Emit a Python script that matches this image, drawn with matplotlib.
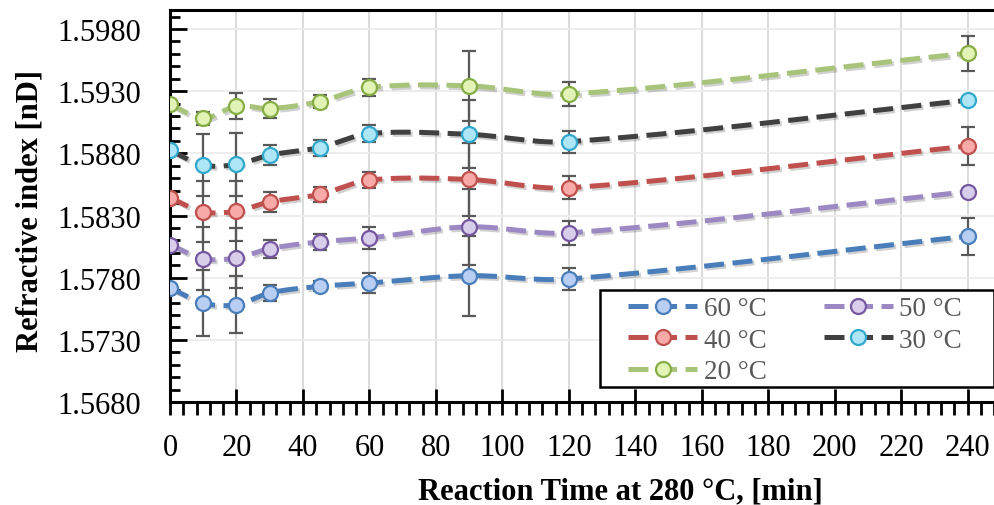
import numpy as np
import matplotlib
matplotlib.use('Agg')
import matplotlib.pyplot as plt
from matplotlib.ticker import MultipleLocator, FixedLocator, FormatStrFormatter
from matplotlib.lines import Line2D
from matplotlib.patches import Rectangle
import matplotlib.patheffects as pe

# ---------------- data ----------------
time_min = [0, 10, 20, 30, 45, 60, 90, 120, 240]
series_labels = ['60 °C', '50 °C', '40 °C', '30 °C', '20 °C']
ri_60 = [1.57717, 1.57596, 1.57582, 1.57677, 1.57730, 1.57757, 1.57816, 1.57789, 1.58133]
ri_50 = [1.58066, 1.57953, 1.57959, 1.58034, 1.58088, 1.58120, 1.58209, 1.58160, 1.58491]
ri_40 = [1.58443, 1.58330, 1.58335, 1.58410, 1.58469, 1.58585, 1.58590, 1.58523, 1.58859]
ri_30 = [1.58824, 1.58706, 1.58711, 1.58786, 1.58846, 1.58959, 1.58953, 1.58894, 1.59227]
ri_20 = [1.59195, 1.59082, 1.59181, 1.59160, 1.59217, 1.59330, 1.59343, 1.59276, 1.59606]
err_60 = [0, 0.00266, 0.00228, 0.00065, 0.00040, 0.00078, 0.00323, 0.00089, 0.00148]
err_50 = [0, 0.00252, 0.00242, 0.00073, 0.00065, 0.00089, 0.00306, 0.00094, 0]
err_40 = [0, 0.00246, 0.00242, 0.00081, 0.00062, 0.00065, 0.00290, 0.00094, 0.00151]
err_30 = [0, 0.00250, 0.00256, 0.00081, 0.00065, 0.00065, 0.00274, 0.00089, 0]
err_20 = [0, 0.00052, 0.00103, 0.00077, 0.00056, 0.00065, 0.00282, 0.00097, 0.00141]
y_ticks = [1.5680, 1.5730, 1.5780, 1.5830, 1.5880, 1.5930, 1.5980]

values = [ri_60, ri_50, ri_40, ri_30, ri_20]
errors = [err_60, err_50, err_40, err_30, err_20]

line_colors = ['#4a7ebb', '#9c88c2', '#c0504d', '#404040', '#a8c47a']
face_colors = ['#b8cff3', '#d8cdeb', '#f7aaa8', '#aee6f7', '#e2f3b6']
edge_colors = ['#4a7ebb', '#7558a0', '#c0504d', '#31a9cc', '#86ad45']

plt.rcParams['font.family'] = ['Liberation Serif', 'DejaVu Serif']


def smooth(x, y, n=40):
    """Smoothed line through the points (cubic Hermite / Bezier in x)."""
    x = np.asarray(x, float)
    y = np.asarray(y, float)
    m = np.zeros_like(y)
    m[0] = (y[1] - y[0]) / (x[1] - x[0])
    m[-1] = (y[-1] - y[-2]) / (x[-1] - x[-2])
    for i in range(1, len(x) - 1):
        m[i] = (y[i + 1] - y[i - 1]) / (x[i + 1] - x[i - 1])
    xs, ys = [], []
    for i in range(len(x) - 1):
        h = x[i + 1] - x[i]
        p1 = np.array([x[i], y[i]])
        p2 = np.array([x[i + 1], y[i + 1]])
        c1 = p1 + np.array([h / 3, m[i] * h / 3])
        c2 = p2 - np.array([h / 3, m[i + 1] * h / 3])
        t = np.linspace(0, 1, n)[:, None]
        seg = ((1 - t) ** 3) * p1 + 3 * ((1 - t) ** 2) * t * c1 + 3 * (1 - t) * t ** 2 * c2 + t ** 3 * p2
        if i > 0:
            seg = seg[1:]
        xs.append(seg[:, 0])
        ys.append(seg[:, 1])
    return np.concatenate(xs), np.concatenate(ys)


fig = plt.figure(figsize=(9.95, 5.06), dpi=100)
ax = fig.add_axes([170 / 995, 1 - 403 / 506, 825 / 995, 392 / 506])

dash = (0, (4.0, 1.7))
shadow = [pe.SimpleLineShadow(offset=(1.5, -1.5), shadow_color='k', alpha=0.18), pe.Normal()]

handles = []
for vals, errs, lc, fc, ec, lab in zip(values, errors, line_colors, face_colors, edge_colors, series_labels):
    sx, sy = smooth(time_min, vals)
    ax.plot(sx, sy, color=lc, lw=3.6, linestyle=dash, zorder=2, path_effects=shadow,
            solid_capstyle='butt', dash_capstyle='butt')
    xe = [t for t, e in zip(time_min, errs) if e > 0]
    ye = [v for v, e in zip(vals, errs) if e > 0]
    ee = [e for e in errs if e > 0]
    ax.errorbar(xe, ye, yerr=ee, fmt='none', ecolor='#595959', elinewidth=1.6,
                capsize=4.8, capthick=1.6, zorder=3)
    ax.plot(time_min, vals, linestyle='none', marker='o', markersize=10.8,
            markerfacecolor=fc, markeredgecolor=ec, markeredgewidth=1.6, zorder=4)
    handles.append(Line2D([], [], color=lc, lw=3.6, linestyle=dash, marker='o', markersize=10.8,
                          markerfacecolor=fc, markeredgecolor=ec, markeredgewidth=1.6,
                          dash_capstyle='butt'))

ax.set_xlim(0, 248.2)
ax.set_ylim(1.5680, 1.59953)

ax.xaxis.set_major_locator(MultipleLocator(20))
ax.xaxis.set_minor_locator(MultipleLocator(4))
ax.yaxis.set_major_locator(FixedLocator(y_ticks))
ax.yaxis.set_minor_locator(FixedLocator(np.arange(1.5680, 1.5995, 0.001)))
ax.yaxis.set_major_formatter(FormatStrFormatter('%.4f'))

ax.grid(True, axis='x', which='major', color='#d9d9d9', lw=1.3, zorder=0)
ax.grid(True, axis='y', which='major', color='#ececec', lw=1.3, zorder=0)
ax.set_axisbelow(True)

for s in ['left', 'bottom', 'top']:
    ax.spines[s].set_linewidth(2.2)
    ax.spines[s].set_color('black')
ax.spines['right'].set_visible(False)

ax.tick_params(axis='x', which='major', direction='inout', length=19, width=2, pad=13, labelsize=22)
ax.tick_params(axis='x', which='minor', direction='out', length=9, width=2)
ax.tick_params(axis='y', which='major', direction='in', length=12, width=2, pad=21, labelsize=22)
ax.tick_params(axis='y', which='minor', direction='in', length=7, width=2)

ax.set_xlabel('Reaction Time at 280 °C, [min]', fontsize=22, fontweight='bold')
ax.set_ylabel('Refractive index [nD]', fontsize=22, fontweight='bold')
ax.xaxis.label.set_verticalalignment('baseline')
ax.yaxis.label.set_verticalalignment('baseline')
ax.xaxis.set_label_coords((620 - 170) / 825, (403 - 499) / 392)
ax.yaxis.set_label_coords((38 - 170) / 825, (403 - 211) / 392)

# legend frame
fig.patches.append(Rectangle((600 / 995, 1 - 388 / 506), 394 / 995, 97 / 506,
                             transform=fig.transFigure, facecolor='white',
                             edgecolor='black', linewidth=1.8, zorder=5))
order = [0, 2, 4, 1, 3]
leg = fig.legend([handles[i] for i in order], [series_labels[i] for i in order],
                 loc='upper left', bbox_to_anchor=(628 / 995, 1 - 297 / 506),
                 ncol=2, fontsize=19.5, frameon=False,
                 handlelength=2.55, handletextpad=0.25, columnspacing=2.1,
                 labelspacing=0.245, borderpad=0.0, borderaxespad=0.0)
leg.set_zorder(6)
for t in leg.get_texts():
    t.set_color('#595959')

fig.savefig('out.png', dpi=100)
